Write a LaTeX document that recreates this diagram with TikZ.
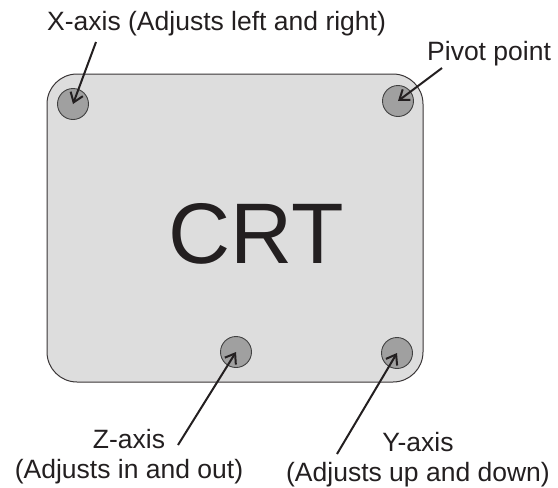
\documentclass[tikz,border=0pt]{standalone}
\usepackage{fontspec}
\setmainfont{Liberation Sans}
\usetikzlibrary{arrows.meta}
\definecolor{ink}{HTML}{231F20}
\definecolor{panel}{HTML}{DDDDDD}
\definecolor{knob}{HTML}{A0A0A0}
\definecolor{knobedge}{HTML}{404040}
\tikzset{
  screen/.style={draw=ink!90, line width=1pt, fill=panel, rounded corners=30pt},
  knobcirc/.style={circle, draw=knobedge, line width=0.9pt, fill=knob, minimum size=31pt, inner sep=0pt},
  pointer/.style={draw=ink, line width=2pt, -{Straight Barb[length=9pt,width=13pt,line width=2pt]}},
  lbl/.style={inner sep=0pt, text=ink, font=\fontsize{26.5}{30}\selectfont},
  biglbl/.style={inner sep=0pt, text=ink, font=\fontsize{86}{100}\selectfont}
}
\begin{document}
\begin{tikzpicture}[x=1pt, y=-1pt]
  \useasboundingbox (0,0) rectangle (558,488);

  % CRT panel
  \draw[screen] (47,74) rectangle (423,382);
  \node[biglbl, anchor=base] (crt) at (256,263) {CRT};

  % adjustment screws
  \node[knobcirc] (xk) at (73,104) {};
  \node[knobcirc] (pk) at (398,101) {};
  \node[knobcirc] (zk) at (236,352) {};
  \node[knobcirc] (yk) at (397,353) {};

  % labels
  \node[lbl, anchor=base west] (xlab) at (47,30) {X-axis (Adjusts left and right)};
  \node[lbl, anchor=base west] (plab) at (427,60) {Pivot point};
  \node[lbl, anchor=north, align=center] (zlab) at (129,429) {Z-axis\\(Adjusts in and out)};
  \node[lbl, anchor=north, align=center] (ylab) at (418,432) {Y-axis\\(Adjusts up and down)};

  % pointer tails
  \coordinate (xt) at (96,42);
  \coordinate (pt) at (442,68);
  \coordinate (zt) at (178,445);
  \coordinate (yt) at (337,454);

  \draw[pointer] (xt) -- (xk.center);
  \draw[pointer] (pt) -- (pk.center);
  \draw[pointer] (zt) -- (zk.center);
  \draw[pointer] (yt) -- (yk.center);
\end{tikzpicture}
\end{document}
